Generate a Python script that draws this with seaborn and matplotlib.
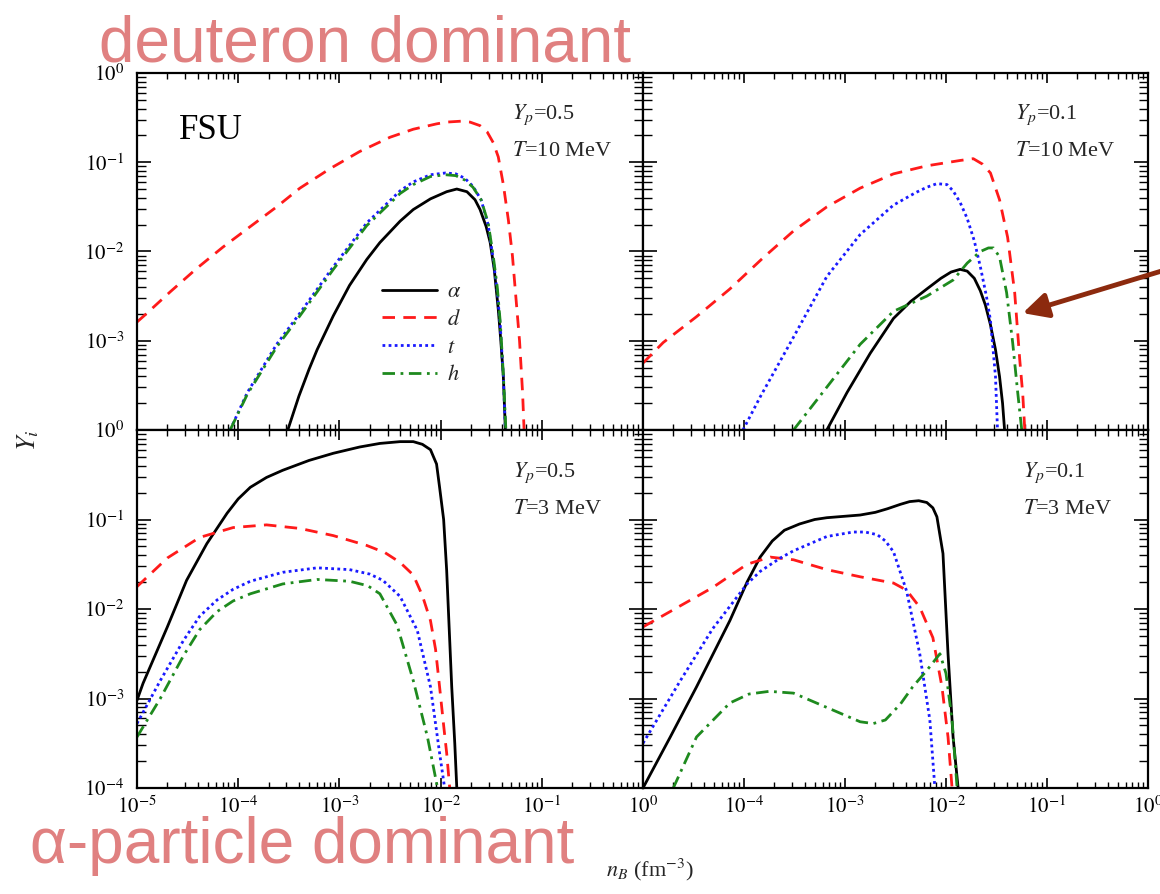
import numpy as np
import pandas as pd
import matplotlib
matplotlib.use("Agg")
import matplotlib.pyplot as plt
import seaborn as sns
from matplotlib.ticker import LogLocator, NullFormatter

# ---------------- data: log10(n_B) and log10(Y_i) ----------------
# Top-left: Yp=0.5, T=10 MeV
tl_alpha_x = [-3.51, -3.40, -3.30, -3.22, -3.06, -2.90, -2.73, -2.60, -2.40, -2.27, -2.10, -1.94, -1.84, -1.74, -1.66, -1.61, -1.55, -1.51, -1.47, -1.43, -1.405, -1.38, -1.36]
tl_alpha_y = [-4.0, -3.62, -3.32, -3.10, -2.72, -2.38, -2.09, -1.90, -1.66, -1.53, -1.41, -1.33, -1.30, -1.33, -1.42, -1.53, -1.72, -1.90, -2.20, -2.65, -3.00, -3.40, -4.0]
tl_d_x = [-5.0, -4.92, -4.67, -4.41, -4.15, -3.88, -3.62, -3.39, -3.09, -2.80, -2.50, -2.27, -2.04, -1.94, -1.80, -1.71, -1.61, -1.54, -1.48, -1.43, -1.38, -1.33, -1.29, -1.26, -1.22, -1.19, -1.175]
tl_d_y = [-2.79, -2.71, -2.45, -2.19, -1.95, -1.72, -1.50, -1.29, -1.07, -0.88, -0.72, -0.63, -0.57, -0.55, -0.54, -0.55, -0.59, -0.66, -0.78, -0.94, -1.25, -1.65, -2.05, -2.46, -3.00, -3.58, -4.0]
tl_t_x = [-4.08, -3.91, -3.62, -3.39, -3.06, -2.73, -2.40, -2.27, -2.10, -1.95, -1.85, -1.76, -1.68, -1.60, -1.53, -1.48, -1.44, -1.41, -1.38, -1.36]
tl_t_y = [-4.0, -3.58, -3.04, -2.69, -2.17, -1.68, -1.32, -1.22, -1.14, -1.12, -1.13, -1.18, -1.27, -1.42, -1.70, -2.09, -2.45, -2.84, -3.40, -4.0]
tl_h_x = [-4.08, -3.91, -3.62, -3.39, -3.06, -2.73, -2.40, -2.27, -2.10, -1.95, -1.85, -1.76, -1.68, -1.60, -1.53, -1.48, -1.44, -1.41, -1.38, -1.355]
tl_h_y = [-4.0, -3.60, -3.07, -2.72, -2.20, -1.71, -1.35, -1.25, -1.16, -1.14, -1.15, -1.20, -1.28, -1.42, -1.68, -2.05, -2.40, -2.80, -3.38, -4.0]

# Top-right: Yp=0.1, T=10 MeV
tr_alpha_x = [-3.18, -2.98, -2.75, -2.52, -2.35, -2.19, -2.05, -1.95, -1.86, -1.79, -1.72, -1.66, -1.61, -1.56, -1.51, -1.47, -1.44, -1.42]
tr_alpha_y = [-4.0, -3.58, -3.14, -2.75, -2.56, -2.42, -2.30, -2.23, -2.20, -2.22, -2.30, -2.44, -2.60, -2.82, -3.10, -3.40, -3.70, -4.0]
tr_d_x = [-5.0, -4.80, -4.47, -4.14, -3.81, -3.51, -3.18, -2.85, -2.52, -2.19, -1.86, -1.73, -1.64, -1.56, -1.47, -1.39, -1.32, -1.27, -1.24, -1.22]
tr_d_y = [-3.25, -3.02, -2.73, -2.42, -2.07, -1.77, -1.50, -1.29, -1.13, -1.04, -0.98, -0.96, -1.02, -1.12, -1.42, -1.84, -2.46, -3.21, -3.60, -4.0]
tr_t_x = [-4.01, -3.84, -3.51, -3.18, -2.85, -2.52, -2.30, -2.19, -2.09, -1.99, -1.93, -1.86, -1.79, -1.72, -1.66, -1.60, -1.56, -1.51, -1.49]
tr_t_y = [-4.0, -3.63, -2.96, -2.28, -1.81, -1.48, -1.34, -1.28, -1.24, -1.25, -1.32, -1.45, -1.63, -1.88, -2.17, -2.50, -2.77, -3.40, -4.0]
tr_h_x = [-3.51, -3.18, -2.85, -2.52, -2.19, -1.93, -1.79, -1.66, -1.58, -1.53, -1.47, -1.40, -1.34, -1.29, -1.25]
tr_h_y = [-4.0, -3.52, -3.04, -2.67, -2.50, -2.32, -2.13, -2.00, -1.96, -1.96, -2.06, -2.46, -3.02, -3.58, -4.0]

# Bottom-left: Yp=0.5, T=3 MeV
bl_alpha_x = [-5.0, -4.94, -4.70, -4.51, -4.31, -4.11, -4.00, -3.88, -3.72, -3.56, -3.30, -3.06, -2.80, -2.60, -2.40, -2.27, -2.18, -2.10, -2.04, -2.01, -1.97, -1.94, -1.89, -1.86, -1.84]
bl_alpha_y = [-3.02, -2.83, -2.20, -1.68, -1.27, -0.93, -0.77, -0.64, -0.53, -0.45, -0.34, -0.26, -0.19, -0.15, -0.13, -0.13, -0.16, -0.22, -0.38, -0.64, -1.00, -1.57, -2.87, -3.50, -4.0]
bl_d_x = [-5.0, -4.70, -4.38, -4.05, -3.72, -3.39, -3.06, -2.73, -2.55, -2.40, -2.27, -2.18, -2.10, -2.05, -2.01, -1.97, -1.94, -1.91]
bl_d_y = [-1.75, -1.43, -1.20, -1.09, -1.06, -1.10, -1.18, -1.29, -1.37, -1.48, -1.62, -1.85, -2.13, -2.45, -2.87, -3.30, -3.61, -4.0]
bl_t_x = [-5.0, -4.77, -4.54, -4.38, -4.21, -4.05, -3.88, -3.56, -3.22, -2.90, -2.70, -2.57, -2.40, -2.23, -2.10, -2.01, -1.96]
bl_t_y = [-3.28, -2.80, -2.35, -2.08, -1.90, -1.78, -1.69, -1.59, -1.54, -1.56, -1.61, -1.68, -1.86, -2.24, -2.87, -3.61, -4.0]
bl_h_x = [-5.0, -4.77, -4.54, -4.38, -4.21, -4.05, -3.88, -3.56, -3.22, -2.90, -2.72, -2.60, -2.43, -2.27, -2.13, -2.03]
bl_h_y = [-3.43, -3.00, -2.52, -2.23, -2.03, -1.91, -1.83, -1.72, -1.67, -1.69, -1.74, -1.83, -2.18, -2.80, -3.43, -4.0]

# Bottom-right: Yp=0.1, T=3 MeV
br_alpha_x = [-5.0, -4.73, -4.47, -4.14, -3.97, -3.84, -3.72, -3.60, -3.45, -3.30, -3.18, -2.85, -2.70, -2.58, -2.45, -2.36, -2.27, -2.19, -2.13, -2.09, -2.03, -1.98, -1.93, -1.88]
br_alpha_y = [-4.0, -3.43, -2.87, -2.13, -1.70, -1.42, -1.24, -1.12, -1.05, -1.00, -0.98, -0.95, -0.92, -0.88, -0.83, -0.80, -0.79, -0.81, -0.87, -0.97, -1.38, -2.50, -3.43, -4.0]
br_d_x = [-5.0, -4.31, -3.97, -3.74, -3.51, -3.18, -2.85, -2.52, -2.39, -2.26, -2.13, -2.04, -1.98, -1.94]
br_d_y = [-2.20, -1.76, -1.50, -1.42, -1.45, -1.56, -1.64, -1.71, -1.79, -1.98, -2.32, -2.87, -3.43, -4.0]
br_t_x = [-5.0, -4.63, -4.31, -3.97, -3.84, -3.64, -3.51, -3.18, -2.92, -2.80, -2.68, -2.60, -2.52, -2.39, -2.26, -2.16, -2.11]
br_t_y = [-3.50, -2.80, -2.22, -1.72, -1.58, -1.43, -1.35, -1.19, -1.14, -1.14, -1.17, -1.24, -1.36, -1.80, -2.50, -3.24, -4.0]
br_h_x = [-4.70, -4.47, -4.14, -3.95, -3.75, -3.51, -3.18, -2.85, -2.72, -2.60, -2.45, -2.33, -2.20, -2.13, -2.06, -2.00, -1.94, -1.89]
br_h_y = [-4.0, -3.43, -3.05, -2.95, -2.92, -2.94, -3.10, -3.26, -3.28, -3.24, -3.06, -2.87, -2.70, -2.60, -2.50, -2.72, -3.24, -4.0]

species = ["alpha", "d", "t", "h"]
legend_labels = [r"$\alpha$", r"$d$", r"$t$", r"$h$"]
panel_texts = [("0.5", "10"), ("0.1", "10"), ("0.5", "3"), ("0.1", "3")]
x_exponents = [-5, -4, -3, -2, -1, 0]
y_exponents = [-4, -3, -2, -1, 0]

panels = {
    "tl": {"alpha": (tl_alpha_x, tl_alpha_y), "d": (tl_d_x, tl_d_y), "t": (tl_t_x, tl_t_y), "h": (tl_h_x, tl_h_y)},
    "tr": {"alpha": (tr_alpha_x, tr_alpha_y), "d": (tr_d_x, tr_d_y), "t": (tr_t_x, tr_t_y), "h": (tr_h_x, tr_h_y)},
    "bl": {"alpha": (bl_alpha_x, bl_alpha_y), "d": (bl_d_x, bl_d_y), "t": (bl_t_x, bl_t_y), "h": (bl_h_x, bl_h_y)},
    "br": {"alpha": (br_alpha_x, br_alpha_y), "d": (br_d_x, br_d_y), "t": (br_t_x, br_t_y), "h": (br_h_x, br_h_y)},
}

# ---------------- styles ----------------
colors = {"alpha": "#000000", "d": "#ff1a1a", "t": "#1a1aff", "h": "#1e8a1e"}
styles = {"alpha": "-", "d": (0, (4.5, 3.0)), "t": (0, (1, 1.2)), "h": (0, (4.5, 2.0, 1.0, 2.0))}
widths = {"alpha": 2.0, "d": 2.0, "t": 2.0, "h": 2.0}

sns.set_theme(style="ticks")
plt.rcParams["font.family"] = ["Liberation Serif", "DejaVu Serif"]
plt.rcParams["mathtext.fontset"] = "stix"
plt.rcParams["axes.linewidth"] = 1.6

W, H = 1160, 894
fig = plt.figure(figsize=(W / 100, H / 100), dpi=100)
fig.patch.set_facecolor("white")


def px_axes(l, t, r, b):
    return fig.add_axes([l / W, 1 - b / H, (r - l) / W, (b - t) / H])


axes = {
    "tl": px_axes(137, 73, 643, 430),
    "tr": px_axes(643, 73, 1148, 430),
    "bl": px_axes(137, 430, 643, 788),
    "br": px_axes(643, 430, 1148, 788),
}


def fmt(e):
    return r"$10^{%d}$" % e


for key, ax in axes.items():
    ax.set_facecolor("white")
    for sp in species:
        lx, ly = panels[key][sp]
        df = pd.DataFrame({"n": np.power(10.0, lx), "Y": np.power(10.0, ly)})
        sns.lineplot(data=df, x="n", y="Y", ax=ax, color=colors[sp], linewidth=widths[sp],
                     linestyle=styles[sp], estimator=None, sort=False, legend=False)
    for ln in ax.get_lines():
        ln.set_solid_joinstyle("round")
        ln.set_dash_joinstyle("round")
    ax.set_xscale("log")
    ax.set_yscale("log")
    ax.set_xlim(1e-5, 1)
    ax.set_ylim(1e-4, 1)
    ax.set_xlabel("")
    ax.set_ylabel("")
    for s in ax.spines.values():
        s.set_visible(True)
        s.set_linewidth(1.6)
        s.set_color("black")
    ax.set_xticks([10.0 ** e for e in x_exponents])
    ax.set_yticks([10.0 ** e for e in y_exponents])
    ax.xaxis.set_minor_locator(LogLocator(base=10, subs=np.arange(2, 10), numticks=20))
    ax.yaxis.set_minor_locator(LogLocator(base=10, subs=np.arange(2, 10), numticks=20))
    ax.xaxis.set_minor_formatter(NullFormatter())
    ax.yaxis.set_minor_formatter(NullFormatter())
    ax.tick_params(which="both", direction="in", top=True, right=True, color="black",
                   labelsize=15, labelcolor="black")
    ax.tick_params(axis="x", which="major", length=7, width=1.2, pad=6)
    ax.tick_params(axis="x", which="minor", length=4, width=1.0)
    ax.tick_params(axis="y", which="major", length=10, width=1.2, pad=9)
    ax.tick_params(axis="y", which="minor", length=6.5, width=1.0)

# tick labels
axes["tl"].set_yticklabels([""] + [fmt(e) for e in y_exponents[1:]])
axes["bl"].set_yticklabels([fmt(e) for e in y_exponents])
axes["tl"].tick_params(labelbottom=False)
axes["tr"].tick_params(labelbottom=False, labelleft=False)
axes["br"].tick_params(labelleft=False)
axes["bl"].set_xticklabels([fmt(e) for e in x_exponents])
axes["br"].set_xticklabels([""] + [fmt(e) for e in x_exponents[1:]])

# legend in the top-left panel
lines = axes["tl"].get_lines()[:4]
axes["tl"].legend(lines, legend_labels, loc="upper left", bbox_to_anchor=(0.484, 0.415),
                  frameon=False, fontsize=16, handlelength=2.5, handletextpad=0.45,
                  labelspacing=0.32, borderpad=0, borderaxespad=0)

axes["tl"].text(0.083, 0.84, "FSU", transform=axes["tl"].transAxes, fontsize=25,
                ha="left", va="center", color="black")

text_pos = {"tl": (0.741, 0.882, 0.779), "tr": (0.737, 0.882, 0.779),
            "bl": (0.743, 0.88, 0.777), "br": (0.752, 0.88, 0.777)}
for key, (yp, tval) in zip(["tl", "tr", "bl", "br"], panel_texts):
    x0, y1, y2 = text_pos[key]
    ax = axes[key]
    ax.text(x0, y1, r"$Y_p$=" + yp, transform=ax.transAxes, fontsize=16, ha="left", va="center")
    ax.text(x0, y2, r"$T$=" + tval + " MeV", transform=ax.transAxes, fontsize=16, ha="left", va="center")

# axis labels
fig.text(650 / W, 1 - 870 / H, r"$n_B$ (fm$^{-3}$)", ha="center", va="center", fontsize=16)
fig.text(28 / W, 1 - 440 / H, r"$Y_i$", ha="center", va="center", fontsize=19, rotation=90)

# big overlay labels
pink = "#e08080"
fig.text(99 / W, 1 - 62 / H, "deuteron dominant", ha="left", va="baseline", fontsize=46,
         color=pink, family="Liberation Sans")
fig.text(30 / W, 1 - 863 / H, "\u03b1-particle dominant", ha="left", va="baseline", fontsize=46,
         color=pink, family="Liberation Sans")

# arrow pointing at the helion curve in the top-right panel
axes["tr"].annotate("", xy=(10 ** -1.24, 10 ** -2.69), xycoords="data",
                    xytext=(1.01, 1 - 268 / H), textcoords="figure fraction",
                    arrowprops=dict(arrowstyle="-|>,head_length=0.75,head_width=0.38",
                                    mutation_scale=20, color="#8c2a0e", lw=3.5,
                                    shrinkA=0, shrinkB=0),
                    annotation_clip=False)

fig.savefig("out.png", dpi=100, facecolor="white")
